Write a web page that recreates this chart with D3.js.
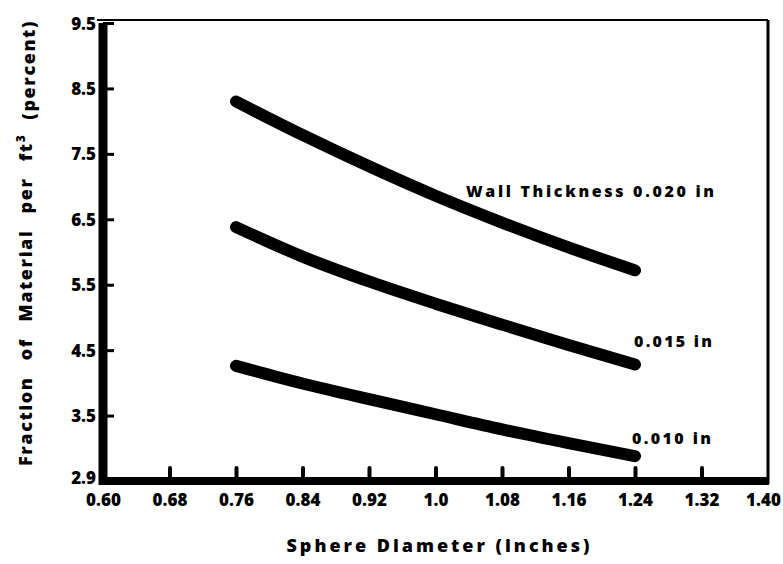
<!DOCTYPE html>
<html>
<head>
<meta charset="utf-8">
<script src="https://cdn.jsdelivr.net/npm/d3@7"></script>
<style>
  body { margin: 0; background: #fff; }
  text { font-family: "Open Sans", "DejaVu Sans", sans-serif; font-weight: 800; fill: #000; }
</style>
</head>
<body>
<figure id="chart" style="margin:0"></figure>
<script>
// sphere diameter (inches) at which the curves were read
const diameters = [0.76, 0.84, 0.92, 1.00, 1.08, 1.16, 1.24];
// fraction of material per ft3 (percent), one array per wall thickness
const wall020 = [8.30, 7.79, 7.31, 6.86, 6.45, 6.07, 5.72];
const wall015 = [6.38, 5.93, 5.55, 5.21, 4.89, 4.58, 4.28];
const wall010 = [4.26, 3.99, 3.75, 3.52, 3.29, 3.08, 2.88];
const seriesLabels = ["Wall Thickness 0.020 in", "0.015 in", "0.010 in"];

const xTicks = [0.60, 0.68, 0.76, 0.84, 0.92, 1.00, 1.08, 1.16, 1.24, 1.32, 1.40];
const xTickLabels = ["0.60", "0.68", "0.76", "0.84", "0.92", "1.0", "1.08", "1.16", "1.24", "1.32", "1.40"];
const yTicks = [2.5, 3.5, 4.5, 5.5, 6.5, 7.5, 8.5, 9.5];
const yTickLabels = ["2.9", "3.5", "4.5", "5.5", "6.5", "7.5", "8.5", "9.5"];

let dimensions = {
    width: 783,
    height: 564,
    margin: { top: 23, right: 15, bottom: 83, left: 103 },
};
dimensions.boundedWidth = dimensions.width - dimensions.margin.left - dimensions.margin.right;
dimensions.boundedHeight = dimensions.height - dimensions.margin.top - dimensions.margin.bottom;

const root = d3.select("figure#chart")
    .append("svg")
    .attr("width", dimensions.width)
    .attr("height", dimensions.height);

const svg = root.append("g")
    .attr("transform", `translate(${dimensions.margin.left}, ${dimensions.margin.top})`);

const xScale = d3.scaleLinear()
    .domain([0.60, 1.40])
    .range([0, dimensions.boundedWidth]);

const yScale = d3.scaleLinear()
    .domain([2.5, 9.5])
    .range([dimensions.boundedHeight, 0]);

// frame: thin top and right edges
svg.append("line")
    .attr("x1", -6).attr("x2", xScale(1.40))
    .attr("y1", yScale(9.5) - 3).attr("y2", yScale(9.5) - 3)
    .attr("stroke", "#000").attr("stroke-width", 2);
svg.append("line")
    .attr("x1", xScale(1.40)).attr("x2", xScale(1.40))
    .attr("y1", yScale(9.5) - 3).attr("y2", yScale(2.5) + 3)
    .attr("stroke", "#000").attr("stroke-width", 3);

// y axis, ticks pointing into the plot
const yAxis = svg.append("g")
    .call(d3.axisLeft(yScale)
        .tickValues(yTicks.slice(1))
        .tickFormat((d, i) => yTickLabels[i + 1])
        .tickSizeInner(-11)
        .tickSizeOuter(0)
        .tickPadding(7));
yAxis.select(".domain").remove();
yAxis.selectAll(".tick line").attr("stroke", "#000").attr("stroke-width", 3);
yAxis.selectAll(".tick text").style("font-size", "17px").attr("dy", "0.36em");

// x axis, ticks pointing up
const xAxis = svg.append("g")
    .attr("transform", `translate(0, ${dimensions.boundedHeight})`)
    .call(d3.axisBottom(xScale)
        .tickValues(xTicks)
        .tickFormat((d, i) => xTickLabels[i])
        .tickSizeInner(-13)
        .tickSizeOuter(0)
        .tickPadding(13));
xAxis.select(".domain").remove();
xAxis.selectAll(".tick line")
    .attr("stroke", "#000").attr("stroke-width", 4)
    .attr("stroke-linecap", "round")
    .attr("display", d => (d === 0.60 || d === 1.40) ? "none" : null);
xAxis.selectAll(".tick text")
    .style("font-size", "17px")
    .attr("dx", d => d === 1.40 ? -5 : 0);

// bottom-left corner label
svg.append("text")
    .attr("x", -7)
    .attr("y", yScale(2.5))
    .attr("dy", "0.2em")
    .attr("text-anchor", "end")
    .style("font-size", "17px")
    .text(yTickLabels[0]);

// heavy left and bottom spines
svg.append("line")
    .attr("x1", 0).attr("x2", 0)
    .attr("y1", yScale(9.5)).attr("y2", yScale(2.5) + 4)
    .attr("stroke", "#000").attr("stroke-width", 9);
svg.append("line")
    .attr("x1", -4).attr("x2", xScale(1.40) + 1)
    .attr("y1", yScale(2.5)).attr("y2", yScale(2.5))
    .attr("stroke", "#000").attr("stroke-width", 8);

// curves
const line = d3.line()
    .x((d, i) => xScale(diameters[i]))
    .y(d => yScale(d))
    .curve(d3.curveMonotoneX);

[wall020, wall015, wall010].forEach(values => {
    svg.append("path")
        .datum(values)
        .attr("d", line)
        .attr("fill", "none")
        .attr("stroke", "#000")
        .attr("stroke-width", 12)
        .attr("stroke-linecap", "round");
});

// curve labels
svg.append("text")
    .attr("x", xScale(1.40) - 54).attr("y", yScale(wall020[6]) - 73)
    .attr("text-anchor", "end")
    .attr("textLength", 248)
    .style("font-size", "16px")
    .text(seriesLabels[0]);
svg.append("text")
    .attr("x", xScale(1.40) - 56).attr("y", yScale(wall015[6]) - 18)
    .attr("text-anchor", "end")
    .attr("textLength", 78)
    .style("font-size", "16px")
    .text(seriesLabels[1]);
svg.append("text")
    .attr("x", xScale(1.40) - 57).attr("y", yScale(wall010[6]) - 12)
    .attr("text-anchor", "end")
    .attr("textLength", 79)
    .style("font-size", "16px")
    .text(seriesLabels[2]);

// axis titles
root.append("text")
    .attr("x", 438)
    .attr("y", 552)
    .attr("text-anchor", "middle")
    .attr("textLength", 303)
    .style("font-size", "18px")
    .text("Sphere Diameter (inches)");

const yTitle = root.append("text")
    .attr("transform", "translate(32, 243) rotate(-90)")
    .attr("text-anchor", "middle")
    .style("font-size", "18px")
    .style("letter-spacing", "1.6px")
    .style("word-spacing", "10px");
yTitle.append("tspan").text("Fraction of Material per ft");
yTitle.append("tspan")
    .attr("dy", "-0.55em")
    .style("font-size", "12px")
    .text("3");
yTitle.append("tspan")
    .attr("dy", "0.55em")
    .attr("dx", 14)
    .text("(percent)");
</script>
</body>
</html>
